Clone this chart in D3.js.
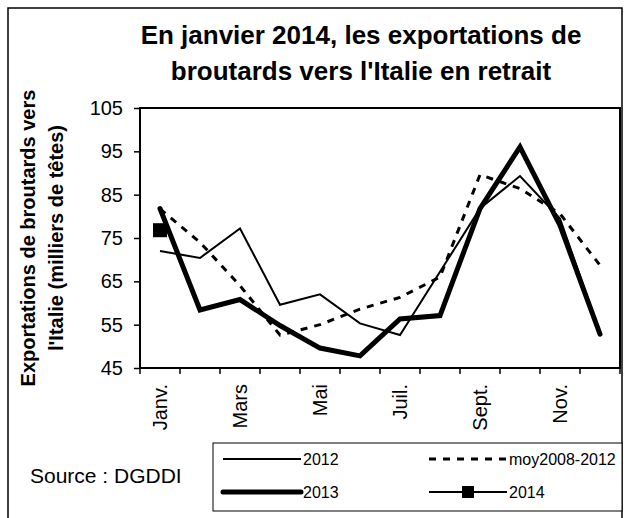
<!DOCTYPE html>
<html>
<head>
<meta charset="utf-8">
<script src="https://cdn.jsdelivr.net/npm/d3@7"></script>
<style>
  body { margin: 0; background: #fff; }
  text { font-family: Arial, "Liberation Sans", sans-serif; }
</style>
</head>
<body>
<div id="chart-area"></div>
<script>
const W = 624, H = 518
const MARGIN = { LEFT: 140, RIGHT: 4, TOP: 108, BOTTOM: 150 }
const WIDTH = W - MARGIN.LEFT - MARGIN.RIGHT
const HEIGHT = H - MARGIN.TOP - MARGIN.BOTTOM

// data (milliers de têtes)
const months = ["Janv.", "Févr.", "Mars", "Avr.", "Mai", "Juin", "Juil.", "Août", "Sept.", "Oct.", "Nov.", "Déc."]
const shownMonths = ["Janv.", "Mars", "Mai", "Juil.", "Sept.", "Nov."]
const yTicks = [45, 55, 65, 75, 85, 95, 105]
const v2012 = [72, 70.4, 77.2, 59.6, 62, 55.3, 52.6, 67.2, 81.8, 89.3, 79.5, 53]
const v2013 = [81.8, 58.4, 60.8, 54.8, 49.6, 47.8, 56.3, 57.1, 81.8, 96, 77.9, 52.8]
const vMoy = [81.7, 74, 64, 52.6, 55, 58.6, 61.3, 66, 89.6, 86.4, 80.6, 68.7]
const v2014 = [76.8]

const svg = d3.select("#chart-area").append("svg")
	.attr("width", W)
	.attr("height", H)

// outer frame (cut at the bottom)
svg.append("rect")
	.attr("x", 8).attr("y", 8)
	.attr("width", 614).attr("height", 530)
	.attr("fill", "none")
	.attr("stroke", "#000")
	.attr("stroke-width", 1.5)

// title
const title = svg.append("text")
	.attr("text-anchor", "middle")
	.attr("font-size", "26px")
	.attr("font-weight", "bold")
title.append("tspan").attr("x", 361).attr("y", 44).text("En janvier 2014, les exportations de")
title.append("tspan").attr("x", 361).attr("y", 80).text("broutards vers l'Italie en retrait")

const g = svg.append("g")
	.attr("transform", `translate(${MARGIN.LEFT}, ${MARGIN.TOP})`)

const x = d3.scaleBand().domain(months).range([0, WIDTH])
const y = d3.scaleLinear().domain([45, 105]).range([HEIGHT, 0])
const cx = d => x(d) + x.bandwidth() / 2

// axes
const yAxisCall = d3.axisLeft(y).tickValues(yTicks).tickSize(6).tickPadding(11)
const yAxis = g.append("g").call(yAxisCall)
yAxis.select(".domain").remove()
yAxis.selectAll("text").attr("font-size", "20px").attr("font-family", null).attr("fill", "#000")
yAxis.selectAll("line").attr("stroke", "#000").attr("stroke-width", 1.5)

const xAxisCall = d3.axisBottom(x).tickSize(0).tickFormat(d => shownMonths.includes(d) ? d : "")
const xAxis = g.append("g")
	.attr("transform", `translate(0, ${HEIGHT})`)
	.call(xAxisCall)
xAxis.select(".domain").remove()
xAxis.selectAll("text")
	.attr("font-size", "20px")
	.attr("font-family", null)
	.attr("fill", "#000")
	.attr("text-anchor", "end")
	.attr("transform", "rotate(-90)")
	.attr("x", -16)
	.attr("y", 0)
	.attr("dy", "0.35em")

// x tick marks at category boundaries
g.append("g").selectAll("line")
	.data(d3.range(months.length + 1))
	.join("line")
	.attr("x1", i => i * x.step()).attr("x2", i => i * x.step())
	.attr("y1", HEIGHT).attr("y2", HEIGHT + 6)
	.attr("stroke", "#000").attr("stroke-width", 1.5)

// plot frame
g.append("rect")
	.attr("width", WIDTH).attr("height", HEIGHT)
	.attr("fill", "none")
	.attr("stroke", "#000")
	.attr("stroke-width", 2)

// Y label
const yLabel = svg.append("text")
	.attr("text-anchor", "middle")
	.attr("font-size", "20px")
	.attr("font-weight", "bold")
	.attr("transform", "rotate(-90)")
yLabel.append("tspan").attr("x", -238).attr("y", 35).text("Exportations de broutards vers")
yLabel.append("tspan").attr("x", -238).attr("y", 63).text("l'Italie (milliers de têtes)")

// series
const line = d3.line()
	.x((d, i) => cx(months[i]))
	.y(d => y(d))

g.append("path").datum(vMoy)
	.attr("d", line).attr("fill", "none")
	.attr("stroke", "#000").attr("stroke-width", 3)
	.attr("stroke-dasharray", "7,7")

g.append("path").datum(v2012)
	.attr("d", line).attr("fill", "none")
	.attr("stroke", "#000").attr("stroke-width", 2)

g.append("path").datum(v2013)
	.attr("d", line).attr("fill", "none")
	.attr("stroke", "#000").attr("stroke-width", 5)
	.attr("stroke-linejoin", "miter")
	.attr("stroke-linecap", "round")

g.selectAll(".m2014").data(v2014).join("rect")
	.attr("class", "m2014")
	.attr("x", (d, i) => cx(months[i]) - 7)
	.attr("y", d => y(d) - 7)
	.attr("width", 14).attr("height", 14)
	.attr("fill", "#000")

// source
svg.append("text")
	.attr("x", 30).attr("y", 483)
	.attr("font-size", "21px")
	.text("Source : DGDDI")

// legend
const lg = svg.append("g")
lg.append("rect")
	.attr("x", 213).attr("y", 443)
	.attr("width", 409).attr("height", 68)
	.attr("fill", "#fff")
	.attr("stroke", "#000").attr("stroke-width", 1)

const legendItems = [
	{ name: "2012", x: 223, y: 459, w: 2, dash: null, mark: false },
	{ name: "moy2008-2012", x: 429, y: 459, w: 3, dash: "7,7", mark: false },
	{ name: "2013", x: 223, y: 492, w: 5, dash: null, mark: false },
	{ name: "2014", x: 429, y: 492, w: 2, dash: null, mark: true }
]
legendItems.forEach(it => {
	lg.append("line")
		.attr("x1", it.x).attr("x2", it.x + 78)
		.attr("y1", it.y).attr("y2", it.y)
		.attr("stroke", "#000").attr("stroke-width", it.w)
		.attr("stroke-dasharray", it.dash)
		.attr("stroke-linecap", it.w > 4 ? "round" : "butt")
	if (it.mark) {
		lg.append("rect")
			.attr("x", it.x + 39 - 6).attr("y", it.y - 6)
			.attr("width", 12).attr("height", 12)
			.attr("fill", "#000")
	}
	lg.append("text")
		.attr("x", it.x + 80).attr("y", it.y + 6)
		.attr("font-size", "16px")
		.text(it.name)
})
</script>
</body>
</html>
